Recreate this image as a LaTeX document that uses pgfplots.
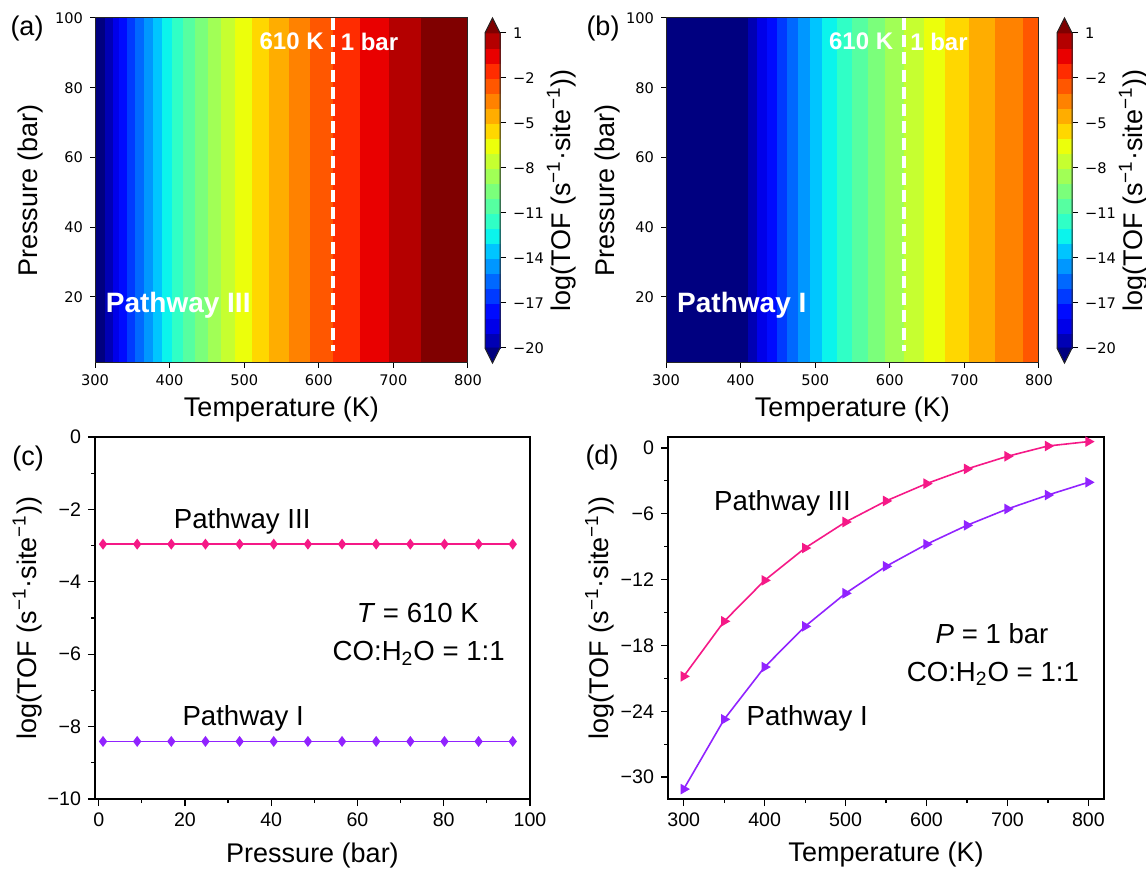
\documentclass[border=0pt]{standalone}
\usepackage{fontspec}
\setmainfont{Liberation Sans}
\newfontfamily\dejavu{DejaVu Sans}
\usepackage{pgfplots}
\usepackage{pgfplotstable}
\pgfplotsset{compat=1.18}
\usepgfplotslibrary{patchplots}

\definecolor{pthree}{RGB}{245,25,135}
\definecolor{pone}{RGB}{145,35,255}

\pgfplotsset{
  colormap={tofjet}{
    rgb=(0,0,0.5) rgb=(0,0,0.707) rgb=(0,0,0.913) rgb=(0,0.045,1)
    rgb=(0,0.227,1) rgb=(0,0.409,1) rgb=(0,0.591,1) rgb=(0,0.773,1)
    rgb=(0.044,0.955,0.924) rgb=(0.19,1,0.777) rgb=(0.337,1,0.63)
    rgb=(0.484,1,0.484) rgb=(0.63,1,0.337) rgb=(0.777,1,0.19)
    rgb=(0.924,1,0.044) rgb=(1,0.845,0) rgb=(1,0.677,0)
    rgb=(1,0.508,0) rgb=(1,0.34,0) rgb=(1,0.172,0)
    rgb=(0.913,0,0) rgb=(0.707,0,0) rgb=(0.5,0,0)
  },
  /pgf/number format/assume math mode=true,
}

% band edges (K) and colour index for panel (a), Pathway III
\pgfplotstableread[row sep=\\]{
x y c\\
300 1 0\\ 314.3 1 0\\ 314.3 100 0\\ 300 100 0\\
314.3 1 1\\ 324.1 1 1\\ 324.1 100 1\\ 314.3 100 1\\
324.1 1 2\\ 333.1 1 2\\ 333.1 100 2\\ 324.1 100 2\\
333.1 1 3\\ 343.3 1 3\\ 343.3 100 3\\ 333.1 100 3\\
343.3 1 4\\ 354.5 1 4\\ 354.5 100 4\\ 343.3 100 4\\
354.5 1 5\\ 365.7 1 5\\ 365.7 100 5\\ 354.5 100 5\\
365.7 1 6\\ 377.7 1 6\\ 377.7 100 6\\ 365.7 100 6\\
377.7 1 7\\ 390.3 1 7\\ 390.3 100 7\\ 377.7 100 7\\
390.3 1 8\\ 403.7 1 8\\ 403.7 100 8\\ 390.3 100 8\\
403.7 1 9\\ 418 1 9\\ 418 100 9\\ 403.7 100 9\\
418 1 10\\ 434 1 10\\ 434 100 10\\ 418 100 10\\
434 1 11\\ 451.5 1 11\\ 451.5 100 11\\ 434 100 11\\
451.5 1 12\\ 469.8 1 12\\ 469.8 100 12\\ 451.5 100 12\\
469.8 1 13\\ 488.6 1 13\\ 488.6 100 13\\ 469.8 100 13\\
488.6 1 14\\ 511 1 14\\ 511 100 14\\ 488.6 100 14\\
511 1 15\\ 534 1 15\\ 534 100 15\\ 511 100 15\\
534 1 16\\ 560 1 16\\ 560 100 16\\ 534 100 16\\
560 1 17\\ 589 1 17\\ 589 100 17\\ 560 100 17\\
589 1 18\\ 619.5 1 18\\ 619.5 100 18\\ 589 100 18\\
619.5 1 19\\ 655 1 19\\ 655 100 19\\ 619.5 100 19\\
655 1 20\\ 694 1 20\\ 694 100 20\\ 655 100 20\\
694 1 21\\ 738 1 21\\ 738 100 21\\ 694 100 21\\
738 1 22\\ 800 1 22\\ 800 100 22\\ 738 100 22\\
}\heatA

% panel (b), Pathway I
\pgfplotstableread[row sep=\\]{
x y c\\
300 1 0\\ 410.3 1 0\\ 410.3 100 0\\ 300 100 0\\
410.3 1 1\\ 422.9 1 1\\ 422.9 100 1\\ 410.3 100 1\\
422.9 1 2\\ 435.4 1 2\\ 435.4 100 2\\ 422.9 100 2\\
435.4 1 3\\ 448.8 1 3\\ 448.8 100 3\\ 435.4 100 3\\
448.8 1 4\\ 463.1 1 4\\ 463.1 100 4\\ 448.8 100 4\\
463.1 1 5\\ 477.8 1 5\\ 477.8 100 5\\ 463.1 100 5\\
477.8 1 6\\ 493.5 1 6\\ 493.5 100 6\\ 477.8 100 6\\
493.5 1 7\\ 510 1 7\\ 510 100 7\\ 493.5 100 7\\
510 1 8\\ 529.5 1 8\\ 529.5 100 8\\ 510 100 8\\
529.5 1 9\\ 549.6 1 9\\ 549.6 100 9\\ 529.5 100 9\\
549.6 1 10\\ 570.6 1 10\\ 570.6 100 10\\ 549.6 100 10\\
570.6 1 11\\ 593.8 1 11\\ 593.8 100 11\\ 570.6 100 11\\
593.8 1 12\\ 619.7 1 12\\ 619.7 100 12\\ 593.8 100 12\\
619.7 1 13\\ 645.6 1 13\\ 645.6 100 13\\ 619.7 100 13\\
645.6 1 14\\ 674.2 1 14\\ 674.2 100 14\\ 645.6 100 14\\
674.2 1 15\\ 706.8 1 15\\ 706.8 100 15\\ 674.2 100 15\\
706.8 1 16\\ 741.7 1 16\\ 741.7 100 16\\ 706.8 100 16\\
741.7 1 17\\ 778.6 1 17\\ 778.6 100 17\\ 741.7 100 17\\
778.6 1 18\\ 800 1 18\\ 800 100 18\\ 778.6 100 18\\
}\heatB

% colour bar bands (levels -20..1)
\pgfplotstableread[row sep=\\]{
x y c\\
0 -20 1\\ 1 -20 1\\ 1 -19 1\\ 0 -19 1\\
0 -19 2\\ 1 -19 2\\ 1 -18 2\\ 0 -18 2\\
0 -18 3\\ 1 -18 3\\ 1 -17 3\\ 0 -17 3\\
0 -17 4\\ 1 -17 4\\ 1 -16 4\\ 0 -16 4\\
0 -16 5\\ 1 -16 5\\ 1 -15 5\\ 0 -15 5\\
0 -15 6\\ 1 -15 6\\ 1 -14 6\\ 0 -14 6\\
0 -14 7\\ 1 -14 7\\ 1 -13 7\\ 0 -13 7\\
0 -13 8\\ 1 -13 8\\ 1 -12 8\\ 0 -12 8\\
0 -12 9\\ 1 -12 9\\ 1 -11 9\\ 0 -11 9\\
0 -11 10\\ 1 -11 10\\ 1 -10 10\\ 0 -10 10\\
0 -10 11\\ 1 -10 11\\ 1 -9 11\\ 0 -9 11\\
0 -9 12\\ 1 -9 12\\ 1 -8 12\\ 0 -8 12\\
0 -8 13\\ 1 -8 13\\ 1 -7 13\\ 0 -7 13\\
0 -7 14\\ 1 -7 14\\ 1 -6 14\\ 0 -6 14\\
0 -6 15\\ 1 -6 15\\ 1 -5 15\\ 0 -5 15\\
0 -5 16\\ 1 -5 16\\ 1 -4 16\\ 0 -4 16\\
0 -4 17\\ 1 -4 17\\ 1 -3 17\\ 0 -3 17\\
0 -3 18\\ 1 -3 18\\ 1 -2 18\\ 0 -2 18\\
0 -2 19\\ 1 -2 19\\ 1 -1 19\\ 0 -1 19\\
0 -1 20\\ 1 -1 20\\ 1 0 20\\ 0 0 20\\
0 0 21\\ 1 0 21\\ 1 1 21\\ 0 1 21\\
}\cbar

\pgfplotstableread[row sep=\\]{
x y c\\
0 -20 0\\ 1 -20 0\\ 0.5 -21 0\\
0 1 22\\ 1 1 22\\ 0.5 2 22\\
}\cbtri

% panel (c): log TOF vs pressure at 610 K
\pgfplotstableread[row sep=\\]{
p three one\\
1 -2.96 -8.41\\
8.92 -2.96 -8.41\\
16.83 -2.96 -8.41\\
24.75 -2.96 -8.41\\
32.67 -2.96 -8.41\\
40.58 -2.96 -8.41\\
48.5 -2.96 -8.41\\
56.42 -2.96 -8.41\\
64.33 -2.96 -8.41\\
72.25 -2.96 -8.41\\
80.17 -2.96 -8.41\\
88.08 -2.96 -8.41\\
96 -2.96 -8.41\\
}\tabC

% panel (d): log TOF vs temperature at 1 bar
\pgfplotstableread[row sep=\\]{
t three one\\
300 -20.82 -31.1\\
350 -15.8 -24.74\\
400 -12.07 -19.97\\
450 -9.12 -16.26\\
500 -6.75 -13.25\\
550 -4.83 -10.79\\
600 -3.25 -8.78\\
650 -1.91 -7.05\\
700 -0.76 -5.56\\
750 0.18 -4.29\\
800 0.58 -3.13\\
}\tabD

\pgfplotsset{
  heat/.style={
    anchor=south west, scale only axis, width=186.5pt, height=172.5pt,
    xmin=300, xmax=800, ymin=1, ymax=100,
    xtick={300,400,...,800}, ytick={20,40,...,100},
    tick align=outside, tick pos=left, major tick length=2.5pt,
    tick style={black, line width=0.5pt},
    axis line style={black!85, line width=0.5pt},
    axis on top,
    ticklabel style={font=\dejavu\fontsize{7.3}{8.5}\selectfont},
    label style={font=\fontsize{13.5}{16}\selectfont},
    xlabel={Temperature (K)}, ylabel={Pressure (bar)},
    xlabel style={at={(axis description cs:0.5,-0.136)}, anchor=center},
    colormap name=tofjet, colormap access=direct,
  },
  cb/.style={
    anchor=south west, scale only axis, width=7.5pt, height=172.5pt,
    xmin=0, xmax=1, ymin=-21, ymax=2,
    axis line style={draw=none}, xtick=\empty,
    ytick={-20,-17,...,1},
    yticklabels={−20,−17,−14,−11,−8,−5,−2,1},
    ytick pos=right, yticklabel pos=right,
    tick align=outside, major tick length=3pt,
    tick style={black, line width=0.5pt},
    ticklabel style={font=\dejavu\fontsize{7.3}{8.5}\selectfont},
    clip=false,
    colormap name=tofjet, colormap access=direct,
    ylabel={log(TOF (s\textsuperscript{−1}·site\textsuperscript{−1}))},
    label style={font=\fontsize{13.5}{16}\selectfont},
    ylabel style={at={(axis description cs:5.1,0.5)}, anchor=center},
  },
  origin/.style={
    anchor=south west, scale only axis, height=181pt,
    tick align=outside, tick pos=left,
    major tick length=3.5pt, minor tick length=2pt,
    minor x tick num=1, minor y tick num=1,
    axis line style={black, line width=0.7pt},
    tick style={black, line width=0.6pt},
    ticklabel style={font=\fontsize{9.8}{11.5}\selectfont},
    label style={font=\fontsize{13.5}{16}\selectfont},
    ylabel={log(TOF (s\textsuperscript{−1}·site\textsuperscript{−1}))},
    clip=false,
  },
}

\begin{document}
\begin{tikzpicture}
\useasboundingbox (0,0) rectangle (573pt,434pt);

% ---------------- (a) ----------------
\begin{axis}[heat, at={(47.5pt,252.5pt)},
  ylabel style={at={(axis description cs:-0.172,0.5)}, anchor=center}]
\addplot[patch, patch type=rectangle, shader=faceted, faceted color=mapped color,
  line width=0.3pt, point meta=explicit] table[x=x, y=y, meta=c] {\heatA};
\addplot[white, line width=1.6pt, dash pattern=on 6pt off 2.6pt] coordinates {(619,100) (619,4.5)};
\node[anchor=east, text=white, inner sep=0pt, font=\bfseries\fontsize{12}{14}\selectfont] at (axis cs:607,93.2) {610 K};
\node[anchor=west, text=white, inner sep=0pt, font=\bfseries\fontsize{12}{14}\selectfont] at (axis cs:629,93.2) {1 bar};
\node[anchor=west, text=white, inner sep=0pt, font=\bfseries\fontsize{14}{16}\selectfont] at (axis cs:314,17.6) {Pathway III};
\end{axis}

\begin{axis}[cb, at={(242.5pt,252.5pt)}]
\addplot[patch, patch type=rectangle, shader=faceted, faceted color=mapped color,
  line width=0.3pt, point meta=explicit] table[x=x, y=y, meta=c] {\cbar};
\addplot[patch, patch type=triangle, shader=faceted, faceted color=mapped color,
  line width=0.3pt, point meta=explicit] table[x=x, y=y, meta=c] {\cbtri};
\addplot[black!85, line width=0.5pt, mark=none] coordinates {(0,-5) (0,-20) (0.5,-21) (1,-20) (1,1) (0.5,2) (0,1) (0,-5)};
\end{axis}

% ---------------- (b) ----------------
\begin{axis}[heat, at={(333pt,252.5pt)},
  ylabel style={at={(axis description cs:-0.156,0.5)}, anchor=center}]
\addplot[patch, patch type=rectangle, shader=faceted, faceted color=mapped color,
  line width=0.3pt, point meta=explicit] table[x=x, y=y, meta=c] {\heatB};
\addplot[white, line width=1.6pt, dash pattern=on 6pt off 2.6pt] coordinates {(619,100) (619,4.5)};
\node[anchor=east, text=white, inner sep=0pt, font=\bfseries\fontsize{12}{14}\selectfont] at (axis cs:605,93.2) {610 K};
\node[anchor=west, text=white, inner sep=0pt, font=\bfseries\fontsize{12}{14}\selectfont] at (axis cs:627,93.2) {1 bar};
\node[anchor=west, text=white, inner sep=0pt, font=\bfseries\fontsize{14}{16}\selectfont] at (axis cs:314.5,17.6) {Pathway I};
\end{axis}

\begin{axis}[cb, at={(528.5pt,252.5pt)}]
\addplot[patch, patch type=rectangle, shader=faceted, faceted color=mapped color,
  line width=0.3pt, point meta=explicit] table[x=x, y=y, meta=c] {\cbar};
\addplot[patch, patch type=triangle, shader=faceted, faceted color=mapped color,
  line width=0.3pt, point meta=explicit] table[x=x, y=y, meta=c] {\cbtri};
\addplot[black!85, line width=0.5pt, mark=none] coordinates {(0,-5) (0,-20) (0.5,-21) (1,-20) (1,1) (0.5,2) (0,1) (0,-5)};
\end{axis}

% ---------------- (c) ----------------
\begin{axis}[origin, at={(47.5pt,34.5pt)}, width=217.5pt,
  xmin=-0.86, xmax=100, ymin=-10, ymax=0,
  xtick={0,20,...,100}, ytick={-10,-8,...,0},
  yticklabels={−10,−8,−6,−4,−2,0},
  xlabel={Pressure (bar)},
  xlabel style={at={(axis description cs:0.5,-0.155)}, anchor=center},
  ylabel style={at={(axis description cs:-0.156,0.5)}, anchor=center}]
\addplot[pthree, line width=0.8pt, mark=diamond*, mark size=2.1pt, mark options={solid, fill=pthree}] table[x=p, y=three] {\tabC};
\addplot[pone, line width=0.8pt, mark=diamond*, mark size=2.1pt, mark options={solid, fill=pone}] table[x=p, y=one] {\tabC};
\node[anchor=west, font=\fontsize{13.8}{16}\selectfont] at (axis cs:15.8,-2.34) {Pathway III};
\node[anchor=west, font=\fontsize{13.8}{16}\selectfont] at (axis cs:17.8,-7.77) {Pathway I};
\node[font=\fontsize{13.8}{16}\selectfont] at (axis cs:74,-4.87) {\textit{T} = 610 K};
\node[font=\fontsize{13.8}{16}\selectfont] at (axis cs:74.2,-5.98) {CO:H\textsubscript{2}O = 1:1};
\end{axis}

% ---------------- (d) ----------------
\begin{axis}[origin, at={(334pt,34.5pt)}, width=218pt,
  xmin=280.6, xmax=819.3, ymin=-32, ymax=1,
  xtick={300,400,...,800}, ytick={-30,-24,...,0},
  yticklabels={−30,−24,−18,−12,−6,0},
  xlabel={Temperature (K)},
  xlabel style={at={(axis description cs:0.5,-0.152)}, anchor=center},
  ylabel style={at={(axis description cs:-0.157,0.5)}, anchor=center}]
\addplot[pthree, line width=0.8pt, mark=triangle*, mark size=2.3pt, mark options={solid, fill=pthree, rotate=-90}] table[x=t, y=three] {\tabD};
\addplot[pone, line width=0.8pt, mark=triangle*, mark size=2.3pt, mark options={solid, fill=pone, rotate=-90}] table[x=t, y=one] {\tabD};
\node[anchor=west, font=\fontsize{13.8}{16}\selectfont] at (axis cs:329,-5.07) {Pathway III};
\node[anchor=west, font=\fontsize{13.8}{16}\selectfont] at (axis cs:369,-24.67) {Pathway I};
\node[font=\fontsize{13.8}{16}\selectfont] at (axis cs:681,-16.9) {\textit{P} = 1 bar};
\node[font=\fontsize{13.8}{16}\selectfont] at (axis cs:682,-20.6) {CO:H\textsubscript{2}O = 1:1};
\end{axis}

% panel letters
\node[font=\fontsize{13.5}{16}\selectfont] at (13.5pt,419.5pt) {(a)};
\node[font=\fontsize{13.5}{16}\selectfont] at (301.5pt,419.5pt) {(b)};
\node[font=\fontsize{13.5}{16}\selectfont] at (14pt,204.5pt) {(c)};
\node[font=\fontsize{13.5}{16}\selectfont] at (301pt,205pt) {(d)};
\end{tikzpicture}
\end{document}
